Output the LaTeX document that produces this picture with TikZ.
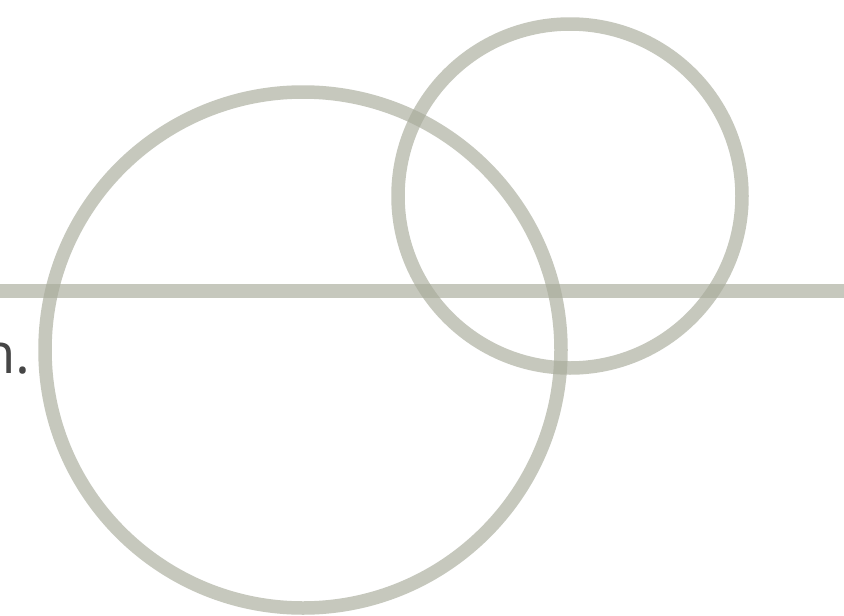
\documentclass[tikz,border=0pt]{standalone}
\usepackage{fontspec}
\setmainfont{Open Sans}
\definecolor{ringgrey}{RGB}{168,171,155}
\definecolor{textgrey}{RGB}{70,70,70}
\begin{document}
\begin{tikzpicture}[x=1pt,y=-1pt,
  ring/.style={draw=ringgrey,line width=13.5pt,draw opacity=0.65}]
\useasboundingbox (0,0) rectangle (844,616);
\clip (0,0) rectangle (844,616);
\fill[white] (0,0) rectangle (844,616);
\node[anchor=base east,inner sep=0pt,text=textgrey,font=\fontsize{56}{60}\selectfont] (txt) at (31,373) {n.};
\coordinate (hl) at (-10,291);
\coordinate (hr) at (854,291);
\draw[ring] (hl) -- (hr);
\coordinate (cbig) at (303,350);
\coordinate (csmall) at (570,196);
\draw[ring] (cbig) circle[radius=258];
\draw[ring] (csmall) circle[radius=172];
\end{tikzpicture}
\end{document}
